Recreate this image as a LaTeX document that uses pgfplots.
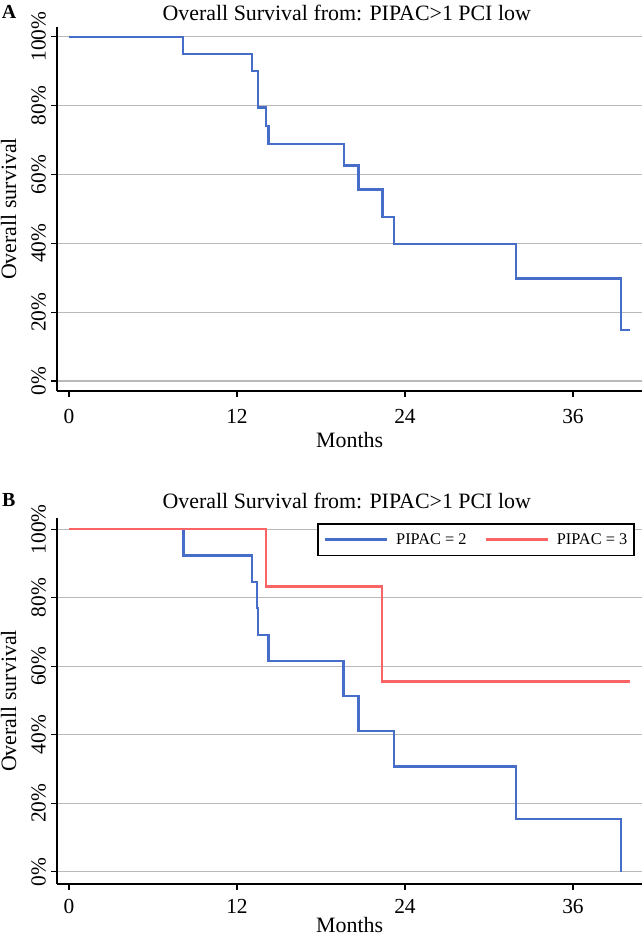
\documentclass[border=0pt]{standalone}
\usepackage{fontspec}
\setmainfont{Liberation Serif}
\usepackage{pgfplots}
\pgfplotsset{compat=1.18}
\definecolor{kmblue}{RGB}{70,110,200}
\definecolor{kmred}{RGB}{250,100,100}
\definecolor{gridgray}{RGB}{185,185,185}
\newcommand{\fs}[1]{\fontsize{#1}{#1}\selectfont}
\pgfplotsset{
  every axis title shift=0pt,
  kmaxis/.style={
    scale only axis,
    width=584.7bp,
    xmin=-0.836, xmax=40.93,
    axis x line*=bottom, axis y line*=left,
    axis line style={line width=1.8bp, black},
    xtick={0,12,24,36},
    ytick={0,20,40,60,80,100},
    yticklabels={0\%,20\%,40\%,60\%,80\%,100\%},
    ymajorgrids, grid style={gridgray, line width=1.3bp},
    tick align=outside,
    major tick length=6bp,
    tick style={black, line width=1.3bp},
    /pgf/number format/assume math mode=true,
    ticklabel style={font=\fs{21.5}, inner sep=0pt},
    xticklabel style={anchor=base},
    yticklabel style={rotate=90, anchor=south},
    yticklabel shift=5.3bp,
    label style={font=\fs{22}, inner sep=0pt},
    title style={font=\fs{22}, inner sep=0pt, anchor=base},
    xlabel={Months}, ylabel={Overall survival},
    title={Overall Survival from: PIPAC>1 PCI low},
    ylabel style={at={(axis description cs:-0.0706,0.5)}, anchor=base},
  }
}
\begin{document}
\begin{tikzpicture}
\path[use as bounding box] (0,0) rectangle (642bp,-937bp);
% Panel A
\begin{axis}[kmaxis,
  at={(57.3bp,-391bp)}, anchor=south west,
  height=364bp, ymin=-2.90, ymax=102.82,
  xticklabel shift=26.3bp,
  xlabel style={at={(axis description cs:0.5,-0.1547)}, anchor=base},
  title style={at={(axis description cs:0.495,1.0192)}},
  extra description/.code={\node[anchor=base west, font=\bfseries\fs{20}, inner sep=0pt] at (axis description cs:-0.0951,1.0239) {A};},
]
\addplot[const plot, kmblue, line width=2.3bp] coordinates {
 (0,100) (8.16,95.00) (13.09,90.00) (13.52,79.41) (14.07,74.12) (14.24,68.82)
 (19.64,62.57) (20.67,55.61) (22.40,47.67) (23.21,39.72) (31.94,29.79)
 (39.42,14.90) (40.07,14.90)
};
\end{axis}
% Panel B
\begin{axis}[kmaxis,
  at={(57.3bp,-883.7bp)}, anchor=south west,
  height=365.4bp, ymin=-3.50, ymax=103.21,
  xticklabel shift=23.6bp,
  xlabel style={at={(axis description cs:0.5,-0.1322)}, anchor=base},
  title style={at={(axis description cs:0.495,1.0282)}},
  extra description/.code={\node[anchor=base west, font=\bfseries\fs{20}, inner sep=0pt] at (axis description cs:-0.0946,1.0317) {B};},
  legend columns=2,
  legend image code/.code={\draw[#1] (0bp,0bp) -- (62bp,0bp);},
  legend style={at={(axis description cs:0.988,0.9866)}, anchor=north east,
    draw=black, line width=1.5bp, fill=white, font=\fs{16.4},
    inner xsep=6bp, inner ysep=8.5bp,
    nodes={inner sep=1bp, text depth=0.15em},
    /tikz/every odd column/.append style={column sep=7bp},
    /tikz/every even column/.append style={column sep=17bp}},
]
\addplot[const plot, kmblue, line width=2.3bp] coordinates {
 (0,100) (8.17,92.31) (13.05,84.62) (13.45,76.92) (13.52,69.23) (14.24,61.54)
 (19.60,51.28) (20.67,41.03) (23.20,30.77) (31.94,15.38) (39.42,0)
};
\addlegendentry{PIPAC = 2}
\addplot[const plot, kmred, line width=2.3bp] coordinates {
 (0,100) (14.05,83.33) (22.38,55.56) (40.07,55.56)
};
\addlegendentry{PIPAC = 3}
\end{axis}
\end{tikzpicture}
\end{document}
